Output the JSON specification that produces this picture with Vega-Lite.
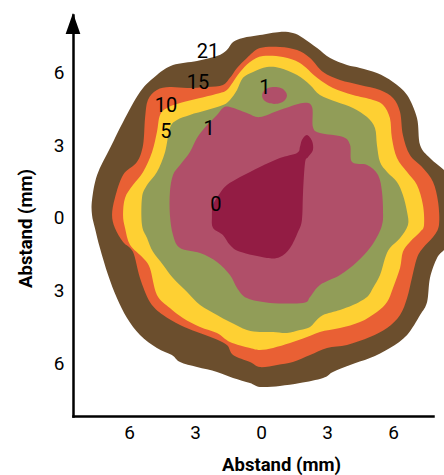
{
  "$schema": "https://vega.github.io/schema/vega-lite/v6.json",
  "width": 360,
  "height": 401,
  "autosize": {"type": "none"},
  "padding": {"left": 73, "top": 15, "right": 11, "bottom": 59},
  "background": "white",
  "config": {
    "view": {"stroke": null},
    "font": "Roboto"
  },
  "datasets": {
    "brown": [
      {"i":0,"x":-7.68,"y":0.74},{"i":1,"x":-7.45,"y":1.78},{"i":2,"x":-6.86,"y":2.89},{"i":3,"x":-6.27,"y":3.97},
      {"i":4,"x":-5.50,"y":5.21},{"i":5,"x":-4.73,"y":5.91},{"i":6,"x":-4.00,"y":6.32},{"i":7,"x":-2.91,"y":6.49},
      {"i":8,"x":-2.00,"y":6.69},{"i":9,"x":-1.55,"y":6.94},{"i":10,"x":-1.27,"y":7.27},{"i":11,"x":-0.82,"y":7.44},
      {"i":12,"x":-0.05,"y":7.56},{"i":13,"x":0.86,"y":7.69},{"i":14,"x":1.45,"y":7.64},{"i":15,"x":1.91,"y":7.44},
      {"i":16,"x":2.55,"y":7.02},{"i":17,"x":3.14,"y":6.61},{"i":18,"x":3.91,"y":6.32},{"i":19,"x":4.50,"y":6.20},
      {"i":20,"x":5.27,"y":5.99},{"i":21,"x":6.00,"y":5.62},{"i":22,"x":6.64,"y":5.08},{"i":23,"x":7.09,"y":4.13},
      {"i":24,"x":7.23,"y":3.02},{"i":25,"x":7.68,"y":2.48},{"i":26,"x":8.32,"y":1.98},{"i":27,"x":8.68,"y":1.57},
      {"i":28,"x":8.68,"y":-0.91},{"i":29,"x":8.32,"y":-1.32},{"i":30,"x":8.00,"y":-1.65},{"i":31,"x":7.68,"y":-2.48},
      {"i":32,"x":7.55,"y":-3.47},{"i":33,"x":7.23,"y":-4.01},{"i":34,"x":6.64,"y":-4.83},{"i":35,"x":5.86,"y":-5.37},
      {"i":36,"x":4.95,"y":-5.79},{"i":37,"x":4.05,"y":-6.07},{"i":38,"x":3.27,"y":-6.36},{"i":39,"x":2.82,"y":-6.61},
      {"i":40,"x":1.77,"y":-6.82},{"i":41,"x":0.86,"y":-6.94},{"i":42,"x":-0.05,"y":-6.98},{"i":43,"x":-0.50,"y":-6.82},
      {"i":44,"x":-1.27,"y":-6.61},{"i":45,"x":-2.00,"y":-6.36},{"i":46,"x":-2.91,"y":-6.16},{"i":47,"x":-3.68,"y":-5.95},
      {"i":48,"x":-4.05,"y":-5.66},{"i":49,"x":-4.73,"y":-5.37},{"i":50,"x":-5.50,"y":-4.83},{"i":51,"x":-6.09,"y":-4.13},
      {"i":52,"x":-6.55,"y":-3.31},{"i":53,"x":-6.95,"y":-2.36},{"i":54,"x":-7.32,"y":-1.24},{"i":55,"x":-7.55,"y":-0.41},
      {"i":56,"x":-7.68,"y":0.12}
    ],
    "orange": [
      {"i":0,"x":-6.77,"y":0.12},{"i":1,"x":-6.64,"y":0.83},{"i":2,"x":-6.27,"y":1.78},{"i":3,"x":-5.64,"y":2.31},
      {"i":4,"x":-5.36,"y":3.02},{"i":5,"x":-5.27,"y":4.13},{"i":6,"x":-5.14,"y":4.88},{"i":7,"x":-4.73,"y":5.29},
      {"i":8,"x":-4.14,"y":5.41},{"i":9,"x":-3.36,"y":5.37},{"i":10,"x":-2.45,"y":5.41},{"i":11,"x":-1.73,"y":5.50},
      {"i":12,"x":-1.41,"y":5.79},{"i":13,"x":-1.09,"y":6.20},{"i":14,"x":-0.64,"y":6.61},{"i":15,"x":-0.05,"y":7.02},
      {"i":16,"x":0.86,"y":7.07},{"i":17,"x":1.64,"y":6.94},{"i":18,"x":2.23,"y":6.61},{"i":19,"x":2.82,"y":6.03},
      {"i":20,"x":3.59,"y":5.70},{"i":21,"x":4.50,"y":5.50},{"i":22,"x":5.41,"y":5.29},{"i":23,"x":6.00,"y":4.96},
      {"i":24,"x":6.32,"y":4.38},{"i":25,"x":6.45,"y":3.43},{"i":26,"x":6.77,"y":2.60},{"i":27,"x":7.36,"y":2.07},
      {"i":28,"x":7.82,"y":1.49},{"i":29,"x":8.05,"y":0.66},{"i":30,"x":8.09,"y":-0.29},{"i":31,"x":7.82,"y":-0.79},
      {"i":32,"x":7.36,"y":-1.24},{"i":33,"x":7.09,"y":-1.65},{"i":34,"x":6.86,"y":-2.48},{"i":35,"x":6.64,"y":-3.31},
      {"i":36,"x":6.32,"y":-4.01},{"i":37,"x":5.73,"y":-4.55},{"i":38,"x":4.95,"y":-4.92},{"i":39,"x":3.91,"y":-5.25},
      {"i":40,"x":3.00,"y":-5.37},{"i":41,"x":2.23,"y":-5.66},{"i":42,"x":1.45,"y":-5.95},{"i":43,"x":0.73,"y":-6.07},
      {"i":44,"x":-0.05,"y":-6.16},{"i":45,"x":-0.50,"y":-5.95},{"i":46,"x":-1.27,"y":-5.66},{"i":47,"x":-1.55,"y":-5.25},
      {"i":48,"x":-2.18,"y":-4.96},{"i":49,"x":-2.91,"y":-4.71},{"i":50,"x":-3.68,"y":-4.42},{"i":51,"x":-4.45,"y":-4.01},
      {"i":52,"x":-5.05,"y":-3.47},{"i":53,"x":-5.50,"y":-2.48},{"i":54,"x":-5.82,"y":-1.40},{"i":55,"x":-6.27,"y":-0.99},
      {"i":56,"x":-6.64,"y":-0.41}
    ],
    "yellow": [
      {"i":0,"x":-6.27,"y":0.12},{"i":1,"x":-6.18,"y":0.83},{"i":2,"x":-5.82,"y":1.36},{"i":3,"x":-5.36,"y":1.90},
      {"i":4,"x":-4.95,"y":2.73},{"i":5,"x":-4.73,"y":3.55},{"i":6,"x":-4.59,"y":4.26},{"i":7,"x":-4.27,"y":4.55},
      {"i":8,"x":-3.68,"y":4.75},{"i":9,"x":-2.77,"y":4.96},{"i":10,"x":-1.86,"y":5.17},{"i":11,"x":-1.55,"y":5.29},
      {"i":12,"x":-1.27,"y":5.62},{"i":13,"x":-0.95,"y":6.03},{"i":14,"x":-0.50,"y":6.45},{"i":15,"x":0.09,"y":6.69},
      {"i":16,"x":1.00,"y":6.65},{"i":17,"x":1.77,"y":6.40},{"i":18,"x":2.55,"y":5.79},{"i":19,"x":3.27,"y":5.37},
      {"i":20,"x":4.18,"y":5.08},{"i":21,"x":5.09,"y":4.88},{"i":22,"x":5.55,"y":4.67},{"i":23,"x":5.86,"y":4.13},
      {"i":24,"x":5.95,"y":3.31},{"i":25,"x":6.18,"y":2.48},{"i":26,"x":6.64,"y":1.90},{"i":27,"x":7.09,"y":1.36},
      {"i":28,"x":7.36,"y":0.54},{"i":29,"x":7.41,"y":-0.29},{"i":30,"x":7.23,"y":-0.58},{"i":31,"x":6.77,"y":-0.99},
      {"i":32,"x":6.45,"y":-1.40},{"i":33,"x":6.32,"y":-2.07},{"i":34,"x":6.00,"y":-2.89},{"i":35,"x":5.73,"y":-3.47},
      {"i":36,"x":5.27,"y":-3.88},{"i":37,"x":4.50,"y":-4.30},{"i":38,"x":3.59,"y":-4.55},{"i":39,"x":2.68,"y":-4.71},
      {"i":40,"x":2.09,"y":-4.92},{"i":41,"x":1.32,"y":-5.17},{"i":42,"x":0.55,"y":-5.37},{"i":43,"x":-0.05,"y":-5.45},
      {"i":44,"x":-0.50,"y":-5.37},{"i":45,"x":-1.41,"y":-5.12},{"i":46,"x":-2.00,"y":-4.75},{"i":47,"x":-2.77,"y":-4.50},
      {"i":48,"x":-3.55,"y":-4.13},{"i":49,"x":-4.14,"y":-3.72},{"i":50,"x":-4.73,"y":-3.18},{"i":51,"x":-5.05,"y":-2.07},
      {"i":52,"x":-5.36,"y":-1.65},{"i":53,"x":-5.95,"y":-1.12},{"i":54,"x":-6.18,"y":-0.41}
    ],
    "green": [
      {"i":0,"x":-5.41,"y":-0.29},{"i":1,"x":-5.41,"y":0.83},{"i":2,"x":-5.18,"y":1.36},{"i":3,"x":-4.73,"y":1.90},
      {"i":4,"x":-4.36,"y":2.73},{"i":5,"x":-4.14,"y":3.72},{"i":6,"x":-3.82,"y":4.05},{"i":7,"x":-3.23,"y":4.26},
      {"i":8,"x":-2.45,"y":4.46},{"i":9,"x":-1.73,"y":4.67},{"i":10,"x":-1.41,"y":4.88},{"i":11,"x":-1.09,"y":5.29},
      {"i":12,"x":-0.82,"y":5.79},{"i":13,"x":-0.36,"y":6.03},{"i":14,"x":0.27,"y":6.24},{"i":15,"x":0.86,"y":6.20},
      {"i":16,"x":1.64,"y":5.91},{"i":17,"x":2.23,"y":5.50},{"i":18,"x":2.68,"y":5.08},{"i":19,"x":3.45,"y":4.79},
      {"i":20,"x":4.18,"y":4.55},{"i":21,"x":4.82,"y":4.17},{"i":22,"x":5.18,"y":3.72},{"i":23,"x":5.27,"y":3.02},
      {"i":24,"x":5.41,"y":2.31},{"i":25,"x":5.73,"y":1.90},{"i":26,"x":6.18,"y":1.49},{"i":27,"x":6.45,"y":0.95},
      {"i":28,"x":6.64,"y":0.25},{"i":29,"x":6.68,"y":-0.29},{"i":30,"x":6.32,"y":-0.83},{"i":31,"x":5.86,"y":-1.24},
      {"i":32,"x":5.64,"y":-1.65},{"i":33,"x":5.41,"y":-2.36},{"i":34,"x":5.09,"y":-2.89},{"i":35,"x":4.82,"y":-3.26},
      {"i":36,"x":4.18,"y":-3.60},{"i":37,"x":3.59,"y":-3.80},{"i":38,"x":2.82,"y":-4.01},{"i":39,"x":2.45,"y":-4.30},
      {"i":40,"x":2.23,"y":-4.50},{"i":41,"x":1.77,"y":-4.63},{"i":42,"x":1.18,"y":-4.75},{"i":43,"x":0.55,"y":-4.71},
      {"i":44,"x":-0.05,"y":-4.71},{"i":45,"x":-0.64,"y":-4.63},{"i":46,"x":-1.41,"y":-4.30},{"i":47,"x":-2.00,"y":-4.01},
      {"i":48,"x":-2.77,"y":-3.60},{"i":49,"x":-3.36,"y":-3.06},{"i":50,"x":-4.00,"y":-2.48},{"i":51,"x":-4.45,"y":-1.94},
      {"i":52,"x":-4.91,"y":-1.40},{"i":53,"x":-5.18,"y":-0.83}
    ],
    "pink": [
      {"i":0,"x":-4.14,"y":0.12},{"i":1,"x":-4.14,"y":1.07},{"i":2,"x":-4.00,"y":1.78},{"i":3,"x":-3.68,"y":2.19},
      {"i":4,"x":-3.23,"y":2.73},{"i":5,"x":-2.91,"y":3.31},{"i":6,"x":-2.45,"y":3.84},{"i":7,"x":-2.00,"y":4.26},
      {"i":8,"x":-1.73,"y":4.55},{"i":9,"x":-1.41,"y":4.59},{"i":10,"x":-0.64,"y":4.34},{"i":11,"x":-0.05,"y":4.17},
      {"i":12,"x":0.86,"y":4.46},{"i":13,"x":1.91,"y":4.75},{"i":14,"x":2.32,"y":4.59},{"i":15,"x":2.36,"y":3.76},
      {"i":16,"x":2.68,"y":3.51},{"i":17,"x":3.73,"y":3.35},{"i":18,"x":4.05,"y":3.02},{"i":19,"x":4.14,"y":2.31},
      {"i":20,"x":4.82,"y":2.19},{"i":21,"x":5.32,"y":1.78},{"i":22,"x":5.50,"y":1.07},{"i":23,"x":5.55,"y":0.12},
      {"i":24,"x":5.50,"y":-0.29},{"i":25,"x":5.32,"y":-0.70},{"i":26,"x":4.95,"y":-1.24},{"i":27,"x":4.36,"y":-1.82},
      {"i":28,"x":3.59,"y":-2.36},{"i":29,"x":2.68,"y":-2.77},{"i":30,"x":2.23,"y":-3.26},{"i":31,"x":1.91,"y":-3.51},
      {"i":32,"x":0.41,"y":-3.51},{"i":33,"x":-0.64,"y":-3.31},{"i":34,"x":-1.09,"y":-2.89},{"i":35,"x":-1.41,"y":-2.36},
      {"i":36,"x":-2.00,"y":-1.82},{"i":37,"x":-2.77,"y":-1.45},{"i":38,"x":-3.68,"y":-1.24},{"i":39,"x":-4.00,"y":-0.70}
    ],
    "island": [
      {"i":0,"x":1.18,"y":5.06},{"i":1,"x":1.10,"y":4.89},{"i":2,"x":0.90,"y":4.76},{"i":3,"x":0.61,"y":4.71},
      {"i":4,"x":0.33,"y":4.76},{"i":5,"x":0.12,"y":4.89},{"i":6,"x":0.05,"y":5.06},{"i":7,"x":0.12,"y":5.24},
      {"i":8,"x":0.33,"y":5.37},{"i":9,"x":0.61,"y":5.41},{"i":10,"x":0.90,"y":5.37},{"i":11,"x":1.10,"y":5.24}
    ],
    "crimson": [
      {"i":0,"x":-2.23,"y":0.04},{"i":1,"x":-2.18,"y":0.54},{"i":2,"x":-1.86,"y":1.03},{"i":3,"x":-1.55,"y":1.36},
      {"i":4,"x":-0.95,"y":1.69},{"i":5,"x":-0.05,"y":2.11},{"i":6,"x":0.86,"y":2.48},{"i":7,"x":1.64,"y":2.69},
      {"i":8,"x":1.77,"y":2.93},{"i":9,"x":1.86,"y":3.22},{"i":10,"x":2.09,"y":3.43},{"i":11,"x":2.32,"y":3.18},
      {"i":12,"x":2.36,"y":2.81},{"i":13,"x":2.14,"y":2.52},{"i":14,"x":2.00,"y":2.27},{"i":15,"x":1.91,"y":1.03},
      {"i":16,"x":1.86,"y":-0.08},{"i":17,"x":1.68,"y":-0.58},{"i":18,"x":1.32,"y":-1.24},{"i":19,"x":0.86,"y":-1.61},
      {"i":20,"x":0.27,"y":-1.65},{"i":21,"x":-0.95,"y":-1.40},{"i":22,"x":-1.41,"y":-1.12},{"i":23,"x":-1.73,"y":-0.70},
      {"i":24,"x":-2.18,"y":-0.41}
    ],
    "labels": [
      {"x":-2.41,"y":6.86,"t":"21"},{"x":-2.86,"y":5.58,"t":"15"},{"x":-4.32,"y":4.63,"t":"10"},
      {"x":-4.32,"y":3.55,"t":"5"},{"x":-2.36,"y":3.68,"t":"1"},{"x":0.18,"y":5.37,"t":"1"},{"x":-2.05,"y":0.54,"t":"0"}
    ],
    "arrow": [{"x":-8.545,"y":8.04}]
  },
  "encoding": {
    "x": {"field": "x", "type": "quantitative",
      "scale": {"domain": [-8.545, 7.818], "nice": false, "zero": false},
      "axis": {"values": [-6, -3, 0, 3, 6], "labelExpr": "abs(datum.value)", "grid": false, "ticks": false, "tickSize": 0,
        "domainColor": "black", "domainWidth": 2.5, "domainCap": "square", "labelFontSize": 19, "labelColor": "black",
        "labelPadding": 7, "labelFont": "Roboto",
        "title": "Abstand (mm)", "titleFontSize": 18.5, "titleFontWeight": "bold", "titleFont": "Roboto",
        "titleColor": "black", "titleX": 208, "titleY": 54, "titleBaseline": "alphabetic", "titleAlign": "center", "titleAngle": 0}},
    "y": {"field": "y", "type": "quantitative",
      "scale": {"domain": [-8.182, 8.388], "nice": false, "zero": false},
      "axis": {"values": [-6, -3, 0, 3, 6], "labelExpr": "abs(datum.value)", "grid": false, "ticks": false, "tickSize": 0,
        "domainColor": "black", "domainWidth": 2.5, "domainCap": "square", "labelFontSize": 19, "labelColor": "black",
        "labelPadding": 9, "labelFont": "Roboto",
        "title": "Abstand (mm)", "titleFontSize": 18.5, "titleFontWeight": "bold", "titleFont": "Roboto",
        "titleColor": "black", "titleX": -42, "titleY": 213, "titleBaseline": "alphabetic", "titleAlign": "center", "titleAngle": 270}}
  },
  "layer": [
    {"data": {"name": "brown"}, "mark": {"type": "line", "interpolate": "cardinal-closed", "fill": "#6b4e2d", "stroke": null, "strokeWidth": 0}, "encoding": {"order": {"field": "i", "type": "quantitative"}}},
    {"data": {"name": "orange"}, "mark": {"type": "line", "interpolate": "cardinal-closed", "fill": "#e96034", "stroke": null, "strokeWidth": 0}, "encoding": {"order": {"field": "i", "type": "quantitative"}}},
    {"data": {"name": "yellow"}, "mark": {"type": "line", "interpolate": "cardinal-closed", "fill": "#fed033", "stroke": null, "strokeWidth": 0}, "encoding": {"order": {"field": "i", "type": "quantitative"}}},
    {"data": {"name": "green"}, "mark": {"type": "line", "interpolate": "cardinal-closed", "fill": "#919d58", "stroke": null, "strokeWidth": 0}, "encoding": {"order": {"field": "i", "type": "quantitative"}}},
    {"data": {"name": "pink"}, "mark": {"type": "line", "interpolate": "cardinal-closed", "fill": "#b04f69", "stroke": null, "strokeWidth": 0}, "encoding": {"order": {"field": "i", "type": "quantitative"}}},
    {"data": {"name": "island"}, "mark": {"type": "line", "interpolate": "cardinal-closed", "fill": "#b04f69", "stroke": null, "strokeWidth": 0}, "encoding": {"order": {"field": "i", "type": "quantitative"}}},
    {"data": {"name": "crimson"}, "mark": {"type": "line", "interpolate": "cardinal-closed", "fill": "#931c44", "stroke": null, "strokeWidth": 0}, "encoding": {"order": {"field": "i", "type": "quantitative"}}},
    {"data": {"name": "labels"}, "mark": {"type": "text", "font": "Roboto", "fontSize": 20, "color": "black", "align": "center", "baseline": "middle"}, "encoding": {"text": {"field": "t"}}},
    {"data": {"name": "arrow"}, "mark": {"type": "point", "shape": "M0,-1L0.7,1L-0.7,1Z", "filled": true, "color": "black", "opacity": 1, "size": 441, "strokeWidth": 0}}
  ]
}
